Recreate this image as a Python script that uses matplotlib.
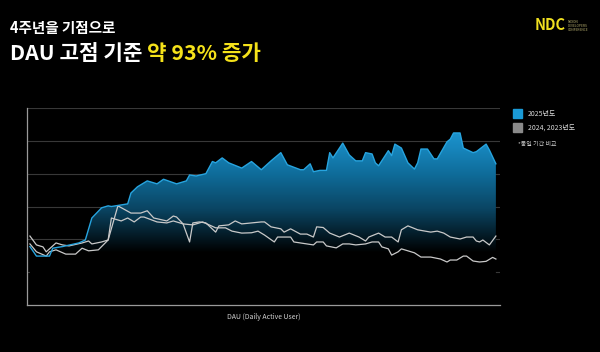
import numpy as np
import matplotlib
matplotlib.use("Agg")
import matplotlib.pyplot as plt
from matplotlib.colors import LinearSegmentedColormap

plt.rcParams['font.family'] = ['Noto Sans CJK KR', 'DejaVu Sans']

# ---- data (x in days, y in relative DAU units) ----
x_2025 = [0, 2, 6, 7, 10, 15, 17, 19, 22, 24, 25, 30, 31, 33, 36, 39, 41, 45, 48, 49, 51, 54,
          56, 57, 59, 61, 65, 68, 71, 74, 77, 79, 83, 84, 86, 87, 89, 91, 92, 93, 96, 98, 100,
          102, 103, 105, 106, 107, 110, 111, 112, 114, 116, 118, 119, 120, 122, 124, 125, 128,
          129, 130, 132, 133, 136, 137, 140, 141, 143]
y_2025 = [1.78, 1.49, 1.49, 1.73, 1.78, 1.89, 1.98, 2.65, 2.96, 3.02, 3.0, 3.08, 3.41, 3.6, 3.78,
          3.69, 3.83, 3.69, 3.78, 3.96, 3.93, 4.0, 4.37, 4.33, 4.48, 4.33, 4.17, 4.37, 4.12, 4.39,
          4.64, 4.27, 4.12, 4.12, 4.3, 4.06, 4.1, 4.1, 4.64, 4.48, 4.93, 4.57, 4.39, 4.39, 4.64,
          4.6, 4.33, 4.24, 4.7, 4.55, 4.9, 4.78, 4.33, 4.14, 4.33, 4.75, 4.75, 4.45, 4.45, 4.97,
          5.05, 5.24, 5.24, 4.78, 4.64, 4.67, 4.9, 4.72, 4.3]

x_2024 = [0, 2, 4, 5, 8, 10, 12, 16, 18, 19, 22, 24, 27, 31, 34, 36, 38, 42, 44, 45, 47, 49, 50,
          52, 54, 57, 58, 61, 63, 65, 68, 71, 72, 74, 77, 78, 80, 83, 85, 87, 88, 90, 92, 95, 98,
          101, 103, 104, 107, 109, 111, 113, 114, 116, 119, 123, 125, 127, 129, 132, 134, 136,
          137, 138, 139, 141, 143]
y_2024 = [2.1, 1.83, 1.77, 1.62, 1.89, 1.83, 1.8, 1.89, 1.95, 1.86, 1.92, 1.98, 3.02, 2.8, 2.8,
          2.87, 2.65, 2.56, 2.71, 2.68, 2.47, 1.92, 2.5, 2.53, 2.5, 2.22, 2.41, 2.44, 2.56, 2.47,
          2.5, 2.53, 2.53, 2.38, 2.32, 2.22, 2.32, 2.16, 2.16, 2.07, 2.38, 2.36, 2.19, 2.07, 2.19,
          2.07, 1.95, 2.07, 2.19, 2.07, 2.07, 1.92, 2.29, 2.41, 2.29, 2.22, 2.25, 2.19, 2.07, 2.01,
          2.07, 2.07, 1.95, 1.92, 1.98, 1.83, 2.1]

x_2023 = [0, 2, 5, 6, 8, 11, 14, 16, 18, 21, 24, 25, 28, 30, 32, 34, 35, 39, 42, 44, 47, 50, 53,
          55, 57, 60, 62, 65, 68, 70, 72, 75, 76, 80, 81, 87, 88, 90, 91, 94, 96, 98, 100, 103,
          105, 107, 108, 110, 111, 113, 114, 118, 120, 123, 126, 128, 129, 131, 133, 134, 136,
          138, 140, 142, 143]
y_2023 = [1.86, 1.62, 1.49, 1.62, 1.68, 1.55, 1.55, 1.73, 1.65, 1.68, 1.98, 2.65, 2.56, 2.65,
          2.53, 2.68, 2.68, 2.53, 2.5, 2.56, 2.47, 2.44, 2.53, 2.44, 2.35, 2.35, 2.25, 2.19, 2.2,
          2.25, 2.13, 1.92, 2.07, 2.07, 1.92, 1.83, 1.92, 1.92, 1.8, 1.74, 1.86, 1.86, 1.83, 1.86,
          1.92, 1.92, 1.77, 1.71, 1.52, 1.62, 1.71, 1.59, 1.46, 1.46, 1.4, 1.31, 1.37, 1.37, 1.49,
          1.49, 1.34, 1.31, 1.33, 1.45, 1.4]

legend_labels = ["2025년도", "2024, 2023년도"]
title_line1 = "4주년을 기점으로"
title_line2a = "DAU 고점 기준 "
title_line2b = "약 93% 증가"
xlabel = "DAU (Daily Active User)"
note = "*동일 기간 비교"

xs = np.array(x_2025, dtype=float)
ys = np.array(y_2025, dtype=float)

fig = plt.figure(figsize=(6.0, 3.52), dpi=100, facecolor='black')
ax = fig.add_axes([0.045, 0.1335, 0.788, 0.5597])
ax.set_facecolor('black')
ax.set_xlim(-0.9, 143 + 1.2)
ax.set_ylim(0, 6)

for g in range(1, 7):
    ax.axhline(g, color='#383838', lw=0.8, zorder=0)
for s in ['top', 'right']:
    ax.spines[s].set_visible(False)
for s in ['left', 'bottom']:
    ax.spines[s].set_color('#9a9a9a')
    ax.spines[s].set_linewidth(0.9)
ax.set_xticks([]); ax.set_yticks([])

# gradient fill under 2025
cmap = LinearSegmentedColormap.from_list('g', [(0, '#000000'), (0.3, '#000000'),
                                                (0.55, '#0a4563'), (0.75, '#0f6c9a'),
                                                (0.9, '#1786bd'), (1.0, '#1c95d0')])
grad = np.linspace(0, 1, 256).reshape(-1, 1)
im = ax.imshow(grad, extent=[xs.min(), xs.max(), 0, 5.3], origin='lower', aspect='auto',
               cmap=cmap, zorder=1)
poly = ax.fill_between(xs, 0, ys, color='none', lw=0)
im.set_clip_path(poly.get_paths()[0], ax.transData)
ax.plot(xs, ys, color='#27a4df', lw=1.0, zorder=3)

ax.plot(x_2024, y_2024, color='#c9c9c9', lw=0.9, zorder=2)
ax.plot(x_2023, y_2023, color='#c9c9c9', lw=0.9, zorder=2)

ax.set_xlabel(xlabel, color='#d0d0d0', fontsize=5, labelpad=6)

# titles
fig.text(10/600, 1 - 28/352, title_line1, color='white', fontsize=10.5, fontweight='bold',
         va='center', ha='left')
t = fig.text(10/600, 1 - 54/352, title_line2a, color='white', fontsize=15.3, fontweight='bold',
             va='center', ha='left')
fig.canvas.draw()
bb = t.get_window_extent()
fig.text(bb.x1 / fig.bbox.width, 1 - 54/352, title_line2b, color='#f5e21a', fontsize=15.3,
         fontweight='bold', va='center', ha='left')

# NDC logo
fig.text(535/600, 1 - 25/352, "NDC", color='#f0e020', fontsize=10.5, fontweight='bold',
         va='center', ha='left')
for i, w in enumerate(["NEXON", "DEVELOPERS", "CONFERENCE"]):
    fig.text(568/600, 1 - (22 + i * 4)/352, w, color='#b8b070', fontsize=2.3,
             va='center', ha='left')

# legend
fig.patches.append(plt.Rectangle((513/600, 1 - 118/352), 9/600, 9/352, transform=fig.transFigure,
                                 color='#1a9ad6'))
fig.patches.append(plt.Rectangle((513/600, 1 - 132/352), 9/600, 9/352, transform=fig.transFigure,
                                 color='#8a8a8a'))
fig.text(528/600, 1 - 114/352, legend_labels[0], color='#d8d8d8', fontsize=5, va='center')
fig.text(528/600, 1 - 128/352, legend_labels[1], color='#d8d8d8', fontsize=5, va='center')
fig.text(518/600, 1 - 144/352, note, color='#cccccc', fontsize=4.3, va='center')

fig.savefig('out.png', dpi=100, facecolor='black')
